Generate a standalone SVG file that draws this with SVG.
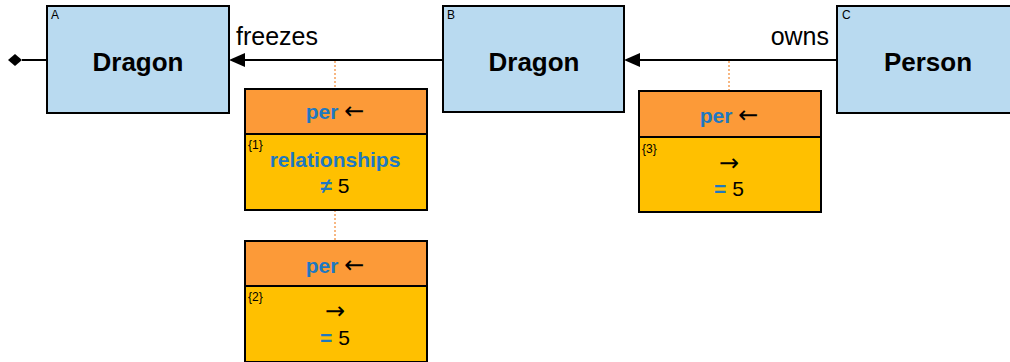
<svg xmlns="http://www.w3.org/2000/svg" width="1010" height="362" viewBox="0 0 1010 362">
<style>
.node{fill:#B9DAF0;stroke:#000;stroke-width:2}
.hdr{fill:#FC9A38;stroke:#000;stroke-width:2}
.body{fill:#FFC000;stroke:#000;stroke-width:2}
.title{font-family:"Liberation Sans",Arial,sans-serif;font-weight:bold;font-size:26px;fill:#000;text-anchor:middle}
.tag{font-family:"Liberation Sans",Arial,sans-serif;font-size:12px;fill:#000}
.idx{font-family:"Liberation Sans",Arial,sans-serif;font-size:12px;fill:#000}
.lbl{font-family:"Liberation Sans",Arial,sans-serif;font-size:25px;fill:#000}
.t{font-family:"Liberation Sans",Arial,sans-serif;font-size:21px;fill:#000;text-anchor:middle}
.b{font-weight:bold;fill:#1E78C0}
.sym{font-family:"DejaVu Sans",sans-serif;font-size:24px;fill:#000}
.edge{stroke:#000;stroke-width:2;fill:none}
.dot{stroke:#F5A05A;stroke-width:1.5;stroke-dasharray:2,2;fill:none}
</style>
<g id="connectors">
<line class="edge" x1="443" y1="60" x2="245" y2="60"/>
<path d="M229,60 L245,53 L245,67 Z" fill="#000"/>
<line class="edge" x1="837" y1="60" x2="640" y2="60"/>
<path d="M624,60 L640,53 L640,67 Z" fill="#000"/>
<line class="edge" x1="22" y1="60" x2="47" y2="60"/>
<path d="M8,60 L15,54 L22,60 L15,66 Z" fill="#000"/>
<text class="lbl" x="236" y="45">freezes</text>
<text class="lbl" x="829" y="45" text-anchor="end">owns</text>
<line class="dot" x1="335" y1="61" x2="335" y2="89"/>
<line class="dot" x1="335" y1="210" x2="335" y2="241"/>
<line class="dot" x1="729" y1="61" x2="729" y2="91"/>
</g>
<g id="nodeA">
<rect class="node" x="47" y="6" width="182" height="107"/>
<text class="tag" x="51" y="19">A</text>
<text class="title" x="138" y="71">Dragon</text>
</g>
<g id="nodeB">
<rect class="node" x="443" y="6" width="181" height="106"/>
<text class="tag" x="447" y="19">B</text>
<text class="title" x="534" y="71">Dragon</text>
</g>
<g id="nodeC">
<rect class="node" x="837" y="6" width="182" height="107"/>
<text class="tag" x="842" y="19">C</text>
<text class="title" x="928" y="71">Person</text>
</g>
<g id="box1">
<rect class="body" x="245" y="134" width="182" height="76"/>
<rect class="hdr" x="245" y="89" width="182" height="45"/>
<text class="t" x="335" y="119"><tspan class="b">per</tspan> <tspan class="sym">←</tspan></text>
<text class="idx" x="248" y="149">{1}</text>
<text class="t b" x="335" y="167">relationships</text>
<text class="t" x="335" y="193"><tspan class="b">≠</tspan> 5</text>
</g>
<g id="box2">
<rect class="body" x="245" y="286" width="182" height="76"/>
<rect class="hdr" x="245" y="241" width="182" height="45"/>
<text class="t" x="335" y="273"><tspan class="b">per</tspan> <tspan class="sym">←</tspan></text>
<text class="idx" x="248" y="301">{2}</text>
<text class="t sym" x="335" y="319">→</text>
<text class="t" x="335" y="345"><tspan class="b">=</tspan> 5</text>
</g>
<g id="box3">
<rect class="body" x="639" y="137" width="182" height="75"/>
<rect class="hdr" x="639" y="91" width="182" height="46"/>
<text class="t" x="729" y="123"><tspan class="b">per</tspan> <tspan class="sym">←</tspan></text>
<text class="idx" x="642" y="153">{3}</text>
<text class="t sym" x="729" y="171">→</text>
<text class="t" x="729" y="196"><tspan class="b">=</tspan> 5</text>
</g>
</svg>
